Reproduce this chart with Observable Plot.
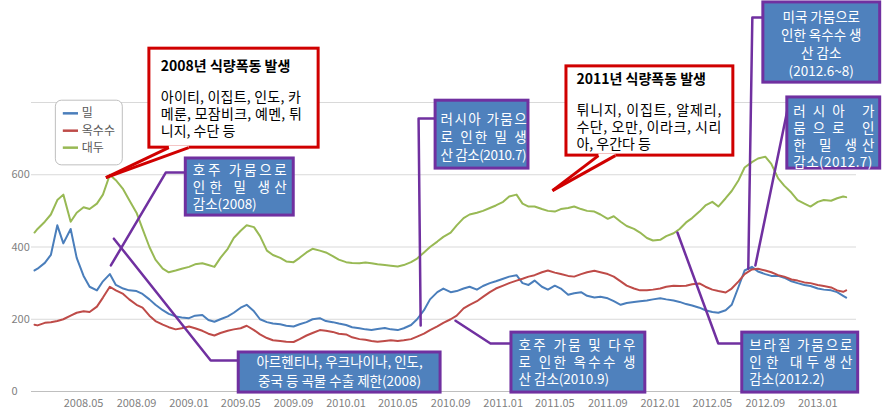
<!DOCTYPE html>
<html><head><meta charset="utf-8">
<script src="https://cdn.jsdelivr.net/npm/d3@7"></script>
<script src="https://cdn.jsdelivr.net/npm/@observablehq/plot@0.6"></script>
<style>body{margin:0;background:#fff} #chart svg{display:block}</style>
</head><body><div id="chart"></div>
<script>
const dates = ["2008-01-08","2008-01-15","2008-02-01","2008-02-15","2008-03-01","2008-03-15","2008-04-01","2008-04-15","2008-05-01","2008-05-15","2008-06-01","2008-06-15","2008-07-01","2008-07-15","2008-08-01","2008-08-15","2008-09-01","2008-09-15","2008-10-01","2008-10-15","2008-11-01","2008-11-15","2008-12-01","2008-12-15",
"2009-01-01","2009-01-15","2009-02-01","2009-02-15","2009-03-01","2009-03-15","2009-04-01","2009-04-15","2009-05-01","2009-05-15","2009-06-01","2009-06-15","2009-07-01","2009-07-15","2009-08-01","2009-08-15","2009-09-01","2009-09-15","2009-10-01","2009-10-15","2009-11-01","2009-11-15","2009-12-01","2009-12-15",
"2010-01-01","2010-01-15","2010-02-01","2010-02-15","2010-03-01","2010-03-15","2010-04-01","2010-04-15","2010-05-01","2010-05-15","2010-06-01","2010-06-15","2010-07-01","2010-07-15","2010-08-01","2010-08-15","2010-09-01","2010-09-15","2010-10-01","2010-10-15","2010-11-01","2010-11-15","2010-12-01","2010-12-15",
"2011-01-01","2011-01-15","2011-02-01","2011-02-15","2011-03-01","2011-03-15","2011-04-01","2011-04-15","2011-05-01","2011-05-15","2011-06-01","2011-06-15","2011-07-01","2011-07-15","2011-08-01","2011-08-15","2011-09-01","2011-09-15","2011-10-01","2011-10-15","2011-11-01","2011-11-15","2011-12-01","2011-12-15",
"2012-01-01","2012-01-15","2012-02-01","2012-02-15","2012-03-01","2012-03-15","2012-04-01","2012-04-15","2012-05-01","2012-05-15","2012-06-01","2012-06-15","2012-07-01","2012-07-15","2012-08-01","2012-08-15","2012-09-01","2012-09-15","2012-10-01","2012-10-15","2012-11-01","2012-11-15","2012-12-01","2012-12-15",
"2013-01-01","2013-01-15","2013-02-01","2013-02-15","2013-03-01","2013-03-08"];

const wheat = [335,340,356,378,460,410,450,370,320,290,280,305,325,295,285,280,278,270,255,240,225,215,208,205,
203,210,212,198,193,200,208,218,232,240,222,200,192,188,186,182,180,186,192,200,203,195,192,188,
184,178,175,172,170,173,176,172,170,175,184,200,225,255,275,285,275,278,285,290,282,292,300,305,
312,318,322,300,295,307,290,282,293,285,268,272,275,265,260,262,258,250,240,245,248,250,252,255,
258,255,252,248,242,238,232,225,220,218,225,240,290,335,345,332,325,320,320,315,305,300,295,292,
285,282,280,275,265,260];

const corn = [185,183,190,192,195,200,210,218,222,220,235,260,290,280,270,255,240,232,210,195,185,178,172,175,
180,175,168,160,155,162,168,172,175,182,170,158,148,142,140,138,137,145,155,162,170,168,165,160,
158,150,145,143,140,138,140,142,140,142,145,152,160,170,180,190,200,210,230,240,250,262,275,285,
293,300,307,312,318,322,330,335,329,325,320,318,325,330,334,330,325,318,305,293,285,280,280,282,
285,290,293,292,293,297,299,290,282,278,274,285,305,325,338,340,335,330,322,318,310,307,302,300,
295,292,288,280,276,280];

const soy = [440,450,470,490,530,545,470,495,510,505,520,545,600,585,560,530,495,450,400,365,340,330,335,340,
345,352,355,350,345,370,395,425,445,460,455,430,390,378,370,360,358,370,385,395,390,385,375,365,
358,356,355,357,355,352,350,348,346,350,358,368,385,400,415,428,440,460,480,490,495,500,508,515,
525,540,545,520,512,512,505,500,498,505,508,512,505,500,498,490,478,485,470,458,450,440,425,418,
420,430,438,450,468,480,498,515,525,512,535,555,585,620,635,645,650,630,590,570,550,530,520,512,
525,530,528,535,540,538];

const seriesNames = ["밀", "옥수수", "대두"];
const seriesColors = ["#4a7ebb", "#be4b48", "#98b954"];
const xTickLabels = ["2008.05","2008.09","2009.01","2009.05","2009.09","2010.01","2010.05","2010.09","2011.01","2011.05","2011.09","2012.01","2012.05","2012.09","2013.01"];
const yTickLabels = [0, 200, 400, 600];
const gridValues = [0, 200, 400, 600, 800];

// annotation layout in data units: x = months since 2008-01, y = value
const redBoxes = [
  {x1: 9.0, x2: 21.92, y1: 675, y2: 949},
  {x1: 40.84, x2: 53.58, y1: 653, y2: 900}
];
const redTails = [
  {bx1: 10.48, bx2: 12.0, by: 675, tx: 5.68, ty: 592},
  {bx1: 43.28, bx2: 44.57, by: 653, tx: 39.77, ty: 556}
];
const redTitles = [
  {x: 9.87, y: 900, text: "2008년 식량폭동 발생"},
  {x: 41.6, y: 864, text: "2011년 식량폭동 발생"}
];
const redBody = [
  {x: 9.87, y: 814, text: "아이티, 이집트, 인도, 카", w: 140},
  {x: 9.87, y: 767, text: "메룬, 모잠비크, 예멘, 튀", w: 141},
  {x: 9.87, y: 720, text: "니지, 수단 등"},
  {x: 41.6, y: 778, text: "튀니지, 이집트, 알제리,", w: 145},
  {x: 41.6, y: 731, text: "수단, 오만, 이라크, 시리", w: 145},
  {x: 41.6, y: 684, text: "아, 우간다 등"}
];
const blueBoxes = [
  {x1: 11.78, x2: 20.02, y1: 487, y2: 645},
  {x1: 15.82, x2: 31.23, y1: -3, y2: 108},
  {x1: 30.85, x2: 37.94, y1: 617, y2: 805},
  {x1: 36.64, x2: 46.86, y1: -3, y2: 163},
  {x1: 54.26, x2: 63.11, y1: -3, y2: 163},
  {x1: 55.87, x2: 64.79, y1: 855, y2: 1077},
  {x1: 57.7, x2: 64.79, y1: 617, y2: 814}
];
const blueTextLeft = [
  {x: 12.31, y: 612, text: "호주 가뭄으로", w: 94},
  {x: 12.31, y: 565, text: "인한 밀 생산", w: 94},
  {x: 12.31, y: 518, text: "감소(2008)"},
  {x: 31.23, y: 753, text: "러시아 가뭄으", w: 86},
  {x: 31.23, y: 703, text: "로 인한 밀 생", w: 86},
  {x: 31.23, y: 653, text: "산 감소(2010.7)", w: 86},
  {x: 37.18, y: 127, text: "호주 가뭄 및 다우", w: 117},
  {x: 37.18, y: 80, text: "로 인한 옥수수 생", w: 117},
  {x: 37.18, y: 33, text: "산 감소(2010.9)"},
  {x: 54.8, y: 127, text: "브라질 가뭄으로", w: 103},
  {x: 54.8, y: 80, text: "인한 대두생산", w: 103},
  {x: 54.8, y: 33, text: "감소(2012.2)"},
  {x: 58.16, y: 775, text: "러시아 가", w: 81},
  {x: 58.16, y: 728, text: "뭄으로 인", w: 81},
  {x: 58.16, y: 681, text: "한 밀 생산", w: 81},
  {x: 58.16, y: 634, text: "감소(2012.7)", w: 79}
];
const blueTextCenter = [
  {x: 23.52, y: 80, text: "아르헨티나, 우크나이나, 인도,"},
  {x: 23.52, y: 28, text: "중국 등 곡물 수출 제한(2008)"},
  {x: 60.29, y: 1035, text: "미국 가뭄으로"},
  {x: 60.29, y: 985, text: "인한 옥수수 생"},
  {x: 60.29, y: 936, text: "산 감소"},
  {x: 60.29, y: 886, text: "(2012.6~8)"}
];
const connectors = [
  [[11.78, 606], [10.25, 606], [6.06, 349]],
  [[15.82, 86], [13.68, 86], [6.29, 423]],
  [[30.85, 756], [29.55, 756], [29.71, 183]],
  [[36.64, 133], [35.04, 133], [32.37, 196]],
  [[54.26, 133], [52.43, 133], [49.31, 440]],
  [[55.87, 1035], [55.03, 1035], [54.72, 340]],
  [[57.7, 778], [55.26, 349]]
];
const legendBox = {x1: 1.86, x2: 6.97, y1: 626, y2: 805};
const legendRows = [770, 722, 675];

const M = mi => new Date(Date.UTC(2008, 0, 1) + mi * 30.4375 * 864e5);
const parse = s => new Date(s + "T00:00:00Z");

const rows = [];
[wheat, corn, soy].forEach((vals, si) => vals.forEach((v, i) => rows.push({date: parse(dates[i]), value: v, series: seriesNames[si]})));

const connRows = connectors.flatMap((pts, k) => pts.map(([x, y]) => ({x: M(x), y, k})));
const legendItems = seriesNames.map((n, i) => ({name: n, y: legendRows[i]}));

const font = "'Noto Sans CJK KR', 'Noto Sans', sans-serif";

const chart = Plot.plot({
  width: 886, height: 420,
  marginLeft: 31, marginRight: 30, marginTop: 0, marginBottom: 29,
  style: {fontFamily: font, fontSize: "11px", color: "#7f7f7f", background: "#fff"},
  x: {type: "utc", domain: [parse("2008-01-01"), parse("2013-04-01")], axis: null},
  y: {domain: [0, 800], range: [391, 102], axis: null},
  color: {domain: seriesNames, range: seriesColors},
  marks: [
    Plot.gridY(gridValues, {stroke: "#d9d9d9", strokeOpacity: 1}),
    Plot.ruleY([0], {stroke: "#bfbfbf"}),
    Plot.axisY(yTickLabels, {tickSize: 0, tickPadding: 0, textAnchor: "start", dx: -20, fill: "#7f7f7f", fontSize: 11}),
    Plot.axisX(xTickLabels.map(s => parse(s.replace(".", "-") + "-01")), {tickSize: 0, tickPadding: 8, tickFormat: d3.utcFormat("%Y.%m"), fill: "#7f7f7f", fontSize: 11}),
    Plot.line(rows, {x: "date", y: "value", stroke: "series", z: "series", strokeWidth: 2}),
    // legend
    Plot.rect([legendBox], {x1: d => M(d.x1), x2: d => M(d.x2), y1: "y1", y2: "y2", fill: "white", stroke: "#bfbfbf", rx: 6}),
    Plot.link(legendItems, {x1: M(2.39), x2: M(3.55), y1: "y", y2: "y", stroke: d => d.name, strokeWidth: 2.5}),
    Plot.text(legendItems, {x: M(3.84), y: "y", text: "name", textAnchor: "start", fill: "#595959", fontSize: 12}),
    // connectors
    Plot.line(connRows, {x: "x", y: "y", z: "k", stroke: "#7030a0", strokeWidth: 2.5, curve: "linear"}),
    // blue boxes
    Plot.rect(blueBoxes, {x1: d => M(d.x1), x2: d => M(d.x2), y1: "y1", y2: "y2", fill: "#4f81bd", stroke: "#7030a0", strokeWidth: 3}),
    Plot.text(blueTextLeft, {x: d => M(d.x), y: "y", text: "text", textAnchor: "start", fill: "white", fontSize: 13.5}),
    Plot.text(blueTextCenter, {x: d => M(d.x), y: "y", text: "text", textAnchor: "middle", fill: "white", fontSize: 13.5}),
    // red callouts
    Plot.rect(redBoxes, {x1: d => M(d.x1), x2: d => M(d.x2), y1: "y1", y2: "y2", fill: "white", stroke: "#d00000", strokeWidth: 3}),
    Plot.link(redTails, {x1: d => M(d.bx1), x2: d => M(d.bx2), y1: "by", y2: "by", stroke: "white", strokeWidth: 4}),
    Plot.link(redTails, {x1: d => M(d.bx1), y1: "by", x2: d => M(d.tx), y2: "ty", stroke: "#d00000", strokeWidth: 3}),
    Plot.link(redTails, {x1: d => M(d.bx2), y1: "by", x2: d => M(d.tx), y2: "ty", stroke: "#d00000", strokeWidth: 3}),
    Plot.text(redTitles, {x: d => M(d.x), y: "y", text: "text", textAnchor: "start", fill: "black", fontSize: 14, fontWeight: "bold"}),
    Plot.text(redBody, {x: d => M(d.x), y: "y", text: "text", textAnchor: "start", fill: "black", fontSize: 14})
  ]
});

// distributed (justified) lines, as in the original text boxes
const widths = new Map([...blueTextLeft, ...redBody].filter(d => d.w).map(d => [d.text, d.w]));
chart.querySelectorAll("text").forEach(t => {
  const w = widths.get(t.textContent);
  if (!w) return;
  const target = t.querySelector("tspan") || t;
  target.setAttribute("textLength", w);
  target.setAttribute("lengthAdjust", "spacing");
  t.setAttribute("textLength", w);
  t.setAttribute("lengthAdjust", "spacing");
});

document.getElementById("chart").appendChild(chart);
</script>
</body></html>
